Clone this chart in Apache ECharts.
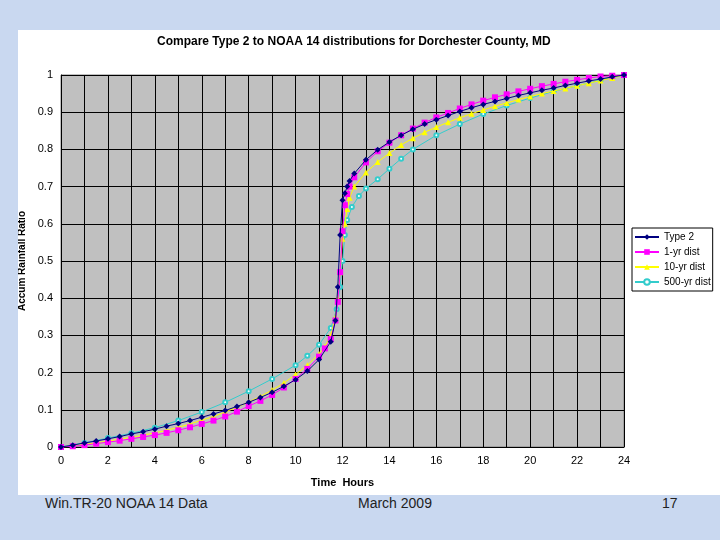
<!DOCTYPE html>
<html><head><meta charset="utf-8">
<script src="https://cdn.jsdelivr.net/npm/echarts@6/dist/echarts.min.js"></script>
<style>
html,body{margin:0;padding:0;}
body{width:720px;height:540px;background:#c9d8f0;position:relative;overflow:hidden;font-family:Arial,"Liberation Sans",sans-serif;}
#chart{position:absolute;left:18px;top:30px;width:702px;height:465px;background:#fff;}
.ft{position:absolute;top:495px;font-size:14px;color:#222;}
</style></head><body>
<div id="chart"></div>
<div class="ft" style="left:45px">Win.TR-20 NOAA 14 Data</div>
<div class="ft" style="left:358px">March 2009</div>
<div class="ft" style="left:662px">17</div>
<script>
let type2 = [[0,0],[0.5,0.005],[1,0.011],[1.5,0.016],[2,0.022],[2.5,0.028],[3,0.035],[3.5,0.041],[4,0.048],[4.5,0.056],[5,0.063],[5.5,0.071],[6,0.080],[6.5,0.089],[7,0.098],[7.5,0.109],[8,0.120],[8.5,0.133],[9,0.147],[9.5,0.163],[10,0.181],[10.5,0.204],[11,0.235],[11.5,0.283],[11.7,0.34],[11.8,0.43],[11.9,0.57],[12,0.663],[12.1,0.682],[12.2,0.70],[12.3,0.715],[12.5,0.735],[13,0.772],[13.5,0.799],[14,0.820],[14.5,0.838],[15,0.854],[15.5,0.868],[16,0.880],[16.5,0.891],[17,0.902],[17.5,0.912],[18,0.921],[18.5,0.929],[19,0.937],[19.5,0.945],[20,0.952],[20.5,0.959],[21,0.965],[21.5,0.972],[22,0.978],[22.5,0.984],[23,0.989],[23.5,0.995],[24,1]];
let yr1 = [[0,0],[0.5,0.002],[1,0.005],[1.5,0.009],[2,0.013],[2.5,0.017],[3,0.022],[3.5,0.027],[4,0.032],[4.5,0.038],[5,0.045],[5.5,0.053],[6,0.062],[6.5,0.071],[7,0.082],[7.5,0.095],[8,0.110],[8.5,0.124],[9,0.140],[9.5,0.160],[10,0.183],[10.5,0.210],[11,0.243],[11.25,0.265],[11.5,0.29],[11.7,0.34],[11.8,0.39],[11.9,0.47],[12,0.58],[12.1,0.65],[12.2,0.68],[12.3,0.70],[12.5,0.725],[13,0.765],[13.5,0.795],[14,0.818],[14.5,0.838],[15,0.856],[15.5,0.872],[16,0.886],[16.5,0.898],[17,0.910],[17.5,0.921],[18,0.931],[18.5,0.940],[19,0.948],[19.5,0.956],[20,0.963],[20.5,0.970],[21,0.976],[21.5,0.982],[22,0.987],[22.5,0.992],[23,0.996],[23.5,0.998],[24,1]];
let yr10 = [[0,0],[0.5,0.003],[1,0.007],[1.5,0.011],[2,0.016],[2.5,0.021],[3,0.026],[3.5,0.032],[4,0.038],[4.5,0.045],[5,0.053],[5.5,0.062],[6,0.072],[6.5,0.082],[7,0.094],[7.5,0.107],[8,0.121],[8.5,0.136],[9,0.153],[9.5,0.172],[10,0.195],[10.5,0.220],[11,0.250],[11.25,0.27],[11.5,0.30],[11.7,0.35],[11.8,0.40],[11.9,0.47],[12,0.56],[12.1,0.60],[12.2,0.64],[12.3,0.67],[12.5,0.70],[13,0.738],[13.5,0.766],[14,0.790],[14.5,0.812],[15,0.830],[15.5,0.846],[16,0.860],[16.5,0.873],[17,0.885],[17.5,0.896],[18,0.906],[18.5,0.916],[19,0.925],[19.5,0.934],[20,0.942],[20.5,0.950],[21,0.957],[21.5,0.964],[22,0.971],[22.5,0.978],[23,0.985],[23.5,0.992],[24,1]];
let yr500 = [[0,0],[1,0.011],[2,0.024],[3,0.037],[4,0.052],[5,0.071],[6,0.094],[7,0.120],[8,0.150],[9,0.183],[10,0.220],[10.5,0.245],[11,0.275],[11.5,0.32],[11.75,0.37],[11.9,0.43],[12,0.50],[12.1,0.57],[12.2,0.61],[12.4,0.645],[12.7,0.675],[13,0.695],[13.5,0.72],[14,0.748],[14.5,0.775],[15,0.800],[16,0.838],[17,0.868],[18,0.895],[19,0.918],[20,0.938],[21,0.956],[22,0.971],[23,0.986],[24,1]];
let seriesNames = ['Type 2','1-yr dist','10-yr dist','500-yr dist'];
let seriesColors = ['#000080','#ff00ff','#ffff00','#33cccc'];
let seriesSymbols = ['diamond','rect','triangle','emptyCircle'];
let seriesData = [type2, yr1, yr10, yr500];

let chart = echarts.init(document.getElementById('chart'));
chart.setOption({
  animation: false,
  textStyle: { fontFamily: 'Arial' },
  title: { text: 'Compare Type 2 to NOAA 14 distributions for Dorchester County, MD', left: 134, top: 1,
    textStyle: { fontSize: 12, fontWeight: 'bold', color: '#000' } },
  legend: { orient: 'vertical', left: 614, top: 198, itemGap: 5, itemWidth: 24, itemHeight: 7,
    backgroundColor: '#fff', borderColor: '#000', borderWidth: 1, padding: [4, 2],
    textStyle: { fontSize: 10, color: '#000' }, data: seriesNames },
  grid: { left: 43, right: 96, top: 45, bottom: 48, backgroundColor: '#c0c0c0', show: true, borderColor: '#808080', outerBoundsMode: 'none', containLabel: false },
  xAxis: { type: 'value', min: 0, max: 24, interval: 1, name: 'Time  Hours', nameLocation: 'middle', nameGap: 30,
    nameTextStyle: { fontWeight: 'bold', fontSize: 11, color: '#000' },
    axisLine: { lineStyle: { color: '#000' } }, axisTick: { show: false },
    axisLabel: { fontSize: 11, color: '#000', formatter: v => v % 2 === 0 ? v : '' },
    splitLine: { lineStyle: { color: '#000', width: 1 } } },
  yAxis: { type: 'value', min: 0, max: 1, interval: 0.1, name: 'Accum Rainfall Ratio', nameLocation: 'middle', nameGap: 24,
    nameTextStyle: { fontWeight: 'bold', fontSize: 10, color: '#000' },
    axisLine: { lineStyle: { color: '#000' } }, axisTick: { show: false },
    axisLabel: { fontSize: 11, color: '#000', formatter: v => +v.toFixed(1) },
    splitLine: { lineStyle: { color: '#000', width: 1 } } },
  series: seriesData.map((d, i) => ({
    name: seriesNames[i], type: 'line', data: d, symbol: seriesSymbols[i],
    symbolSize: i === 3 ? 4 : 6, smooth: false, z: 5 - i,
    lineStyle: { color: seriesColors[i], width: 1 }, itemStyle: { color: seriesColors[i] }
  }))
});
</script>
</body></html>
